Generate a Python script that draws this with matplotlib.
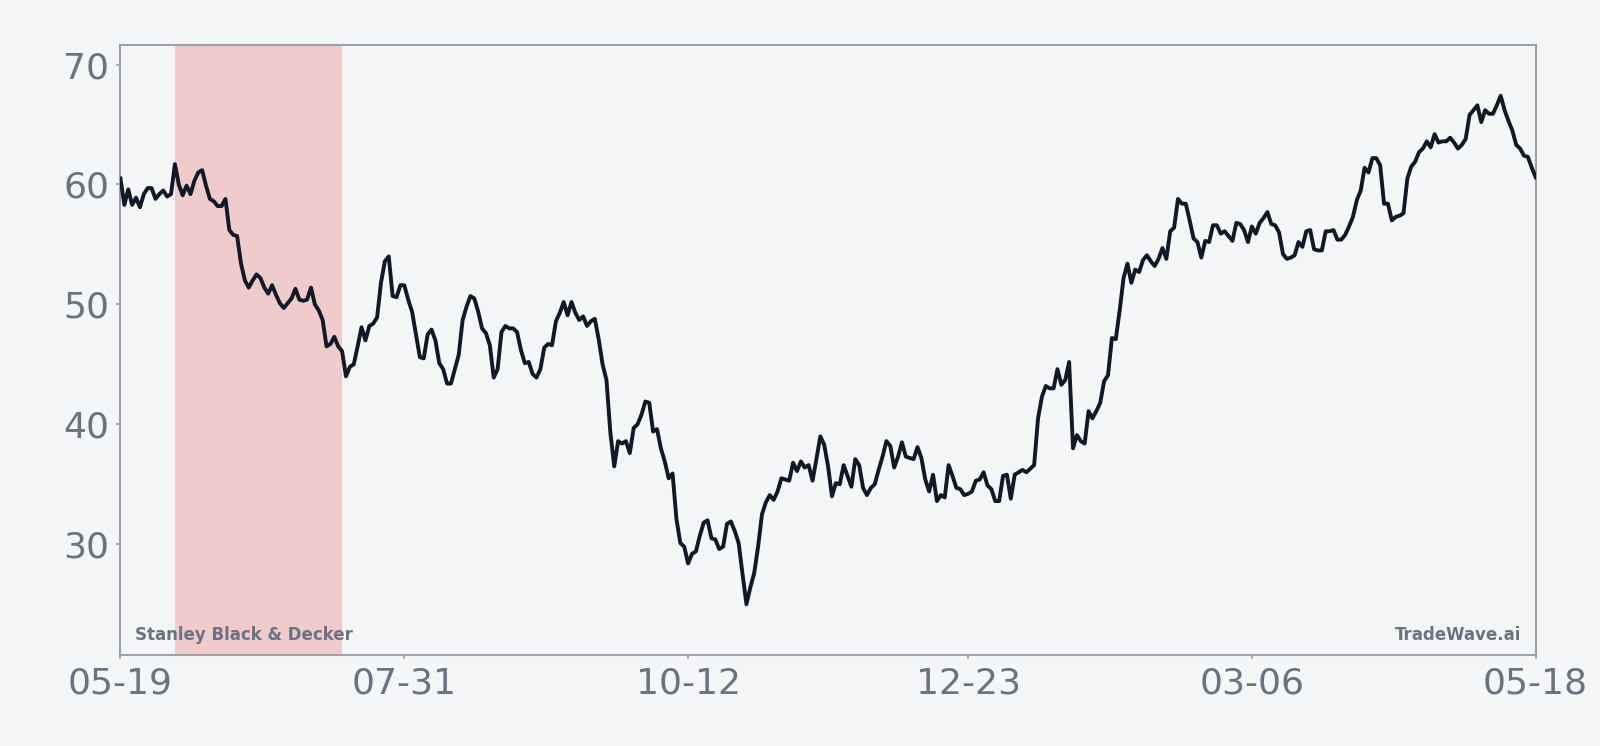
import matplotlib
matplotlib.use("Agg")
import matplotlib.pyplot as plt
import numpy as np
import pandas as pd

start_date = "2024-05-19"
prices = [
    60.5, 58.3, 59.6, 58.3, 58.9, 58.1, 59.2, 59.7, 59.7, 58.8,
    59.2, 59.5, 59.0, 59.2, 61.7, 60.0, 59.1, 59.9, 59.2, 60.3,
    61.0, 61.2, 59.9, 58.8, 58.6, 58.2, 58.2, 58.8, 56.2, 55.8,
    55.7, 53.4, 52.0, 51.4, 52.0, 52.5, 52.2, 51.4, 50.9, 51.6,
    50.8, 50.1, 49.7, 50.1, 50.5, 51.3, 50.4, 50.3, 50.4, 51.4,
    50.0, 49.5, 48.7, 46.5, 46.7, 47.3, 46.5, 46.1, 44.0, 44.8,
    45.0, 46.5, 48.1, 47.0, 48.2, 48.4, 48.9, 51.8, 53.6, 54.0,
    50.7, 50.6, 51.6, 51.6, 50.4, 49.4, 47.5, 45.6, 45.5, 47.5,
    47.9, 47.0, 45.1, 44.6, 43.4, 43.4, 44.6, 45.8, 48.7, 49.8,
    50.7, 50.5, 49.4, 48.0, 47.6, 46.6, 43.9, 44.6, 47.7, 48.2,
    48.0, 48.0, 47.7, 46.2, 45.1, 45.2, 44.2, 43.9, 44.6, 46.4,
    46.7, 46.6, 48.6, 49.3, 50.2, 49.1, 50.2, 49.3, 48.7, 49.0,
    48.2, 48.6, 48.8, 47.1, 45.0, 43.7, 39.3, 36.5, 38.6, 38.4,
    38.6, 37.6, 39.7, 40.0, 40.8, 41.9, 41.8, 39.4, 39.6, 38.0,
    36.9, 35.5, 35.9, 32.1, 30.1, 29.8, 28.4, 29.2, 29.4, 30.7,
    31.8, 32.0, 30.5, 30.4, 29.6, 29.8, 31.7, 31.9, 31.1, 30.1,
    27.5, 25.0, 26.4, 27.6, 29.8, 32.5, 33.5, 34.1, 33.7, 34.4,
    35.5, 35.4, 35.3, 36.8, 36.1, 36.9, 36.4, 36.6, 35.3, 37.1,
    39.0, 38.3, 36.5, 34.0, 35.1, 35.0, 36.6, 35.7, 34.8, 37.1,
    36.6, 34.7, 34.1, 34.7, 35.0, 36.2, 37.3, 38.6, 38.2, 36.4,
    37.3, 38.5, 37.3, 37.2, 37.1, 38.1, 37.2, 35.4, 34.4, 35.8,
    33.6, 34.1, 33.9, 36.6, 35.7, 34.7, 34.6, 34.1, 34.2, 34.4,
    35.3, 35.4, 36.0, 34.9, 34.6, 33.6, 33.6, 35.7, 35.8, 33.8,
    35.8, 36.0, 36.2, 36.0, 36.3, 36.6, 40.5, 42.3, 43.2, 43.0,
    43.0, 44.6, 43.3, 43.7, 45.2, 38.0, 39.1, 38.6, 38.4, 41.1,
    40.5, 41.1, 41.8, 43.6, 44.1, 47.2, 47.1, 49.5, 52.2, 53.4,
    51.8, 52.9, 52.7, 53.7, 54.1, 53.6, 53.2, 53.8, 54.7, 53.8,
    56.1, 56.4, 58.8, 58.4, 58.4, 57.0, 55.5, 55.2, 53.9, 55.3,
    55.2, 56.6, 56.6, 55.9, 56.1, 55.7, 55.3, 56.8, 56.7, 56.2,
    55.2, 56.5, 55.9, 56.8, 57.2, 57.7, 56.7, 56.6, 56.0, 54.2,
    53.8, 53.9, 54.1, 55.2, 54.8, 56.1, 56.2, 54.6, 54.5, 54.5,
    56.1, 56.1, 56.2, 55.4, 55.4, 55.8, 56.5, 57.3, 58.7, 59.5,
    61.4, 61.0, 62.2, 62.2, 61.6, 58.4, 58.4, 57.0, 57.3, 57.4,
    57.6, 60.5, 61.5, 61.9, 62.7, 63.0, 63.6, 63.1, 64.2, 63.5,
    63.6, 63.6, 63.9, 63.5, 63.0, 63.3, 63.8, 65.8, 66.2, 66.6,
    65.2, 66.2, 65.9, 65.9, 66.6, 67.4, 66.2, 65.3, 64.5, 63.3,
    63.0, 62.4, 62.3, 61.4, 60.6,
]
shade_start = "2024-06-02"
shade_end = "2024-07-15"
tick_dates = ["2024-05-19", "2024-07-31", "2024-10-12", "2024-12-23", "2025-03-06", "2025-05-18"]
tick_labels = ["05-19", "07-31", "10-12", "12-23", "03-06", "05-18"]
y_ticks = [30, 40, 50, 60, 70]
company = "Stanley Black & Decker"
brand = "TradeWave.ai"

dates = pd.date_range(start_date, periods=len(prices), freq="D")
prices = np.array(prices)

bg = "#f4f6f8"
grey = "#6b7280"
spine_c = "#9ca3af"

fig = plt.figure(figsize=(16, 7.46), dpi=100, facecolor=bg)
ax = fig.add_axes([0.0753, 0.1219, 0.8845, 0.8179])
ax.set_facecolor(bg)

ax.axvspan(pd.Timestamp(shade_start), pd.Timestamp(shade_end), color="#efcbcb", lw=0, zorder=1)
ax.plot(dates, prices, color="#111827", lw=2.8, zorder=3)

rng = prices.max() - prices.min()
ax.set_ylim(prices.min() - 0.1 * rng, prices.max() + 0.1 * rng)
ax.set_xlim(dates[0], dates[-1])

ax.set_xticks([pd.Timestamp(d) for d in tick_dates])
ax.set_xticklabels(tick_labels)
ax.set_yticks(y_ticks)
ax.tick_params(axis="both", labelsize=26, labelcolor=grey, color=spine_c, length=3, width=1.2, pad=5)
for s in ax.spines.values():
    s.set_color(spine_c)
    s.set_linewidth(1.5)

ax.text(0.01, 0.018, company, transform=ax.transAxes, fontsize=12, fontweight="bold",
        color=grey, ha="left", va="bottom")
ax.text(0.99, 0.018, brand, transform=ax.transAxes, fontsize=12, fontweight="bold",
        color=grey, ha="right", va="bottom")

fig.savefig("out.png", dpi=100, facecolor=bg)
